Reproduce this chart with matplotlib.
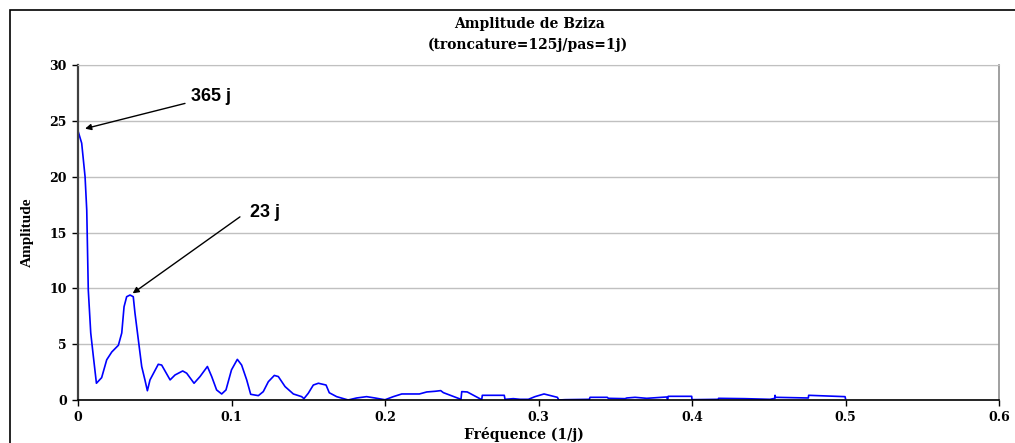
import matplotlib.pyplot as plt
from matplotlib.patches import Rectangle

# Frequency (1/j) and amplitude
freq = [0.0, 0.0024, 0.0046, 0.0057, 0.0067, 0.0083, 0.0100, 0.0120, 0.0154,
        0.0187, 0.0220, 0.0263, 0.0285, 0.0300, 0.0317, 0.0339, 0.0360, 0.0371,
        0.0393, 0.0415, 0.0436, 0.0452, 0.0469, 0.0523, 0.0545, 0.0600, 0.0632,
        0.0682, 0.0708, 0.0756, 0.0795, 0.0843, 0.0871, 0.0903, 0.0936, 0.0964,
        0.1000, 0.1038, 0.1066, 0.1099, 0.1125, 0.1175, 0.1207, 0.1240, 0.1279,
        0.1305, 0.1349, 0.1403, 0.1457, 0.1472, 0.1500, 0.1533, 0.1566, 0.1616,
        0.1637, 0.1685, 0.1760, 0.1815, 0.1880, 0.1935, 0.2000, 0.2054, 0.2109,
        0.2224, 0.2272, 0.2326, 0.2363, 0.2380, 0.2495, 0.2500, 0.2536, 0.2630,
        0.2634, 0.2777, 0.2782, 0.2836, 0.2880, 0.2934, 0.2977, 0.3036, 0.3123,
        0.3132, 0.3173, 0.3331, 0.3336, 0.3448, 0.3455, 0.3564, 0.3575, 0.3629,
        0.3705, 0.3835, 0.3841, 0.3845, 0.3998, 0.4000, 0.4171, 0.4173, 0.4345,
        0.4508, 0.4540, 0.4541, 0.4543, 0.4758, 0.4760, 0.4997, 0.5000]
ampl = [24.1, 23.0, 20.0, 17.0, 9.85, 6.0, 3.9, 1.5, 2.0,
        3.6, 4.3, 4.9, 6.0, 8.35, 9.25, 9.4, 9.25, 7.8,
        5.4, 3.0, 1.8, 0.83, 1.8, 3.2, 3.13, 1.8, 2.24,
        2.6, 2.4, 1.5, 2.1, 3.0, 2.1, 0.9, 0.54, 0.9,
        2.7, 3.64, 3.13, 1.8, 0.51, 0.39, 0.75, 1.64, 2.2,
        2.1, 1.2, 0.54, 0.3, 0.12, 0.6, 1.34, 1.5, 1.34,
        0.65, 0.3, 0.0, 0.18, 0.3, 0.18, 0.02, 0.3, 0.54,
        0.54, 0.72, 0.78, 0.84, 0.66, 0.06, 0.75, 0.72, 0.03,
        0.42, 0.42, 0.06, 0.12, 0.06, 0.06, 0.3, 0.54, 0.24,
        0.0, 0.03, 0.06, 0.24, 0.24, 0.15, 0.12, 0.18, 0.24,
        0.15, 0.27, 0.06, 0.33, 0.33, 0.03, 0.06, 0.15, 0.12,
        0.06, 0.15, 0.42, 0.24, 0.18, 0.42, 0.3, 0.12]

xticks = [0, 0.1, 0.2, 0.3, 0.4, 0.5, 0.6]
xtick_labels = ['0', '0.1', '0.2', '0.3', '0.4', '0.5', '0.6']
yticks = [0, 5, 10, 15, 20, 25, 30]

serif = ['DejaVu Serif']
serif_narrow = ['Liberation Serif', 'DejaVu Serif']
sans = ['Liberation Sans', 'DejaVu Sans']

fig = plt.figure(figsize=(10.15, 4.43), dpi=100)
ax = fig.add_axes([78 / 1015, 1 - 400 / 443, (999 - 78) / 1015, (400 - 65) / 443])

# outer chart frame
fig.patches.append(Rectangle((10 / 1015, -0.05), 1.1, 1 - 10 / 443 + 0.05,
                             transform=fig.transFigure, fill=False,
                             edgecolor='black', lw=1.2))

ax.plot(freq, ampl, color='#0000ff', lw=1.2)

ax.set_xlim(0, 0.6)
ax.set_ylim(0, 30)
ax.set_xticks(xticks)
ax.set_xticklabels(xtick_labels)
ax.set_yticks(yticks)
ax.yaxis.grid(True, color='#c0c0c0', lw=1)
ax.set_axisbelow(True)

for lab in ax.get_xticklabels() + ax.get_yticklabels():
    lab.set_family(serif)
    lab.set_fontweight('bold')
    lab.set_fontsize(9)
ax.tick_params(axis='both', direction='out', length=4, width=1, color='black')
ax.tick_params(axis='x', pad=4)
ax.tick_params(axis='y', pad=4)

ax.spines['left'].set_color('#404040')
ax.spines['left'].set_linewidth(1.6)
ax.spines['bottom'].set_color('black')
ax.spines['bottom'].set_linewidth(1.2)
ax.spines['top'].set_color('#c0c0c0')
ax.spines['right'].set_color('#909090')
ax.spines['right'].set_linewidth(1.2)

fig.text(530 / 1015, 1 - 24 / 443, 'Amplitude de Bziza', ha='center', va='center',
         family=serif, fontweight='bold', fontsize=10)
fig.text(528 / 1015, 1 - 45 / 443, '(troncature=125j/pas=1j)', ha='center', va='center',
         family=serif, fontweight='bold', fontsize=10)
fig.text(524 / 1015, 1 - 434 / 443, 'Fréquence (1/j)', ha='center', va='center',
         family=serif, fontweight='bold', fontsize=10)
fig.text(27 / 1015, 1 - 232 / 443, 'Amplitude', ha='center', va='center', rotation=90,
         family=serif_narrow, fontweight='bold', fontsize=11)

arrow = dict(arrowstyle='-|>', color='black', lw=1, mutation_scale=9, shrinkA=0, shrinkB=0)
ax.annotate('', xy=(0.0046, 24.3), xytext=(0.0697, 26.56), arrowprops=arrow)
ax.text(0.0736, 27.15, '365 j', family=sans, fontweight='bold', fontsize=13,
        ha='left', va='center')
ax.annotate('', xy=(0.0356, 9.55), xytext=(0.1055, 16.4), arrowprops=arrow)
ax.text(0.112, 16.75, '23 j', family=sans, fontweight='bold', fontsize=13,
        ha='left', va='center')

fig.savefig('out.png', dpi=100)
